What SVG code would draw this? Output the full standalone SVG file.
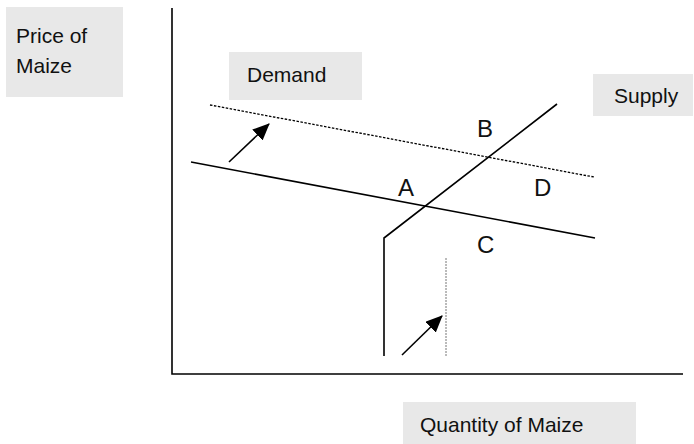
<svg xmlns="http://www.w3.org/2000/svg" width="694" height="444" viewBox="0 0 694 444">
<style>
.box{fill:#e8e8e8}
.t{font-family:"Liberation Sans",Arial,sans-serif;font-size:21px;fill:#111}
.p{font-family:"Liberation Sans",Arial,sans-serif;font-size:24px;fill:#111}
.ln{stroke:#000;stroke-width:1.6;fill:none}
.dot{stroke:#000;stroke-width:1.3;stroke-dasharray:2.5 1.5;fill:none}
.vdot{stroke:#777;stroke-width:1;stroke-dasharray:2 1;fill:none}
</style>
<defs>
<marker id="ah2" markerWidth="17" markerHeight="15" refX="16" refY="7.5" orient="auto" markerUnits="userSpaceOnUse" viewBox="0 0 17 15">
<path d="M0,0 L17,7.5 L0,15 z" fill="#000"/>
</marker>
</defs>
<g id="price-label"><rect class="box" x="6" y="7" width="117" height="90"/><text class="t" x="16" y="43">Price of</text><text class="t" x="16" y="73">Maize</text></g>
<g id="demand-label"><rect class="box" x="229" y="52" width="133" height="48"/><text class="t" x="247" y="82">Demand</text></g>
<g id="supply-label"><rect class="box" x="593" y="74" width="100" height="42"/><text class="t" x="614" y="103">Supply</text></g>
<g id="quantity-label"><rect class="box" x="403" y="402" width="233" height="42"/><text class="t" x="420" y="432">Quantity of Maize</text></g>
<g id="axes"><path class="ln" d="M172,8 V374 H683"/></g>
<g id="connectors">
<line class="dot" x1="210" y1="105" x2="594" y2="177"/>
<line class="ln" x1="191" y1="162" x2="595" y2="238"/>
<path class="ln" d="M384,356 V238 L557,104"/>
<line class="vdot" x1="446" y1="258" x2="446" y2="356"/>
<line class="ln" x1="229" y1="162" x2="269" y2="124" marker-end="url(#ah2)"/>
<line class="ln" x1="402" y1="355" x2="442" y2="316" marker-end="url(#ah2)"/>
</g>
<g id="points">
<text class="p" x="477" y="137">B</text>
<text class="p" x="398" y="196">A</text>
<text class="p" x="534" y="196">D</text>
<text class="p" x="477" y="253">C</text>
</g>
</svg>
